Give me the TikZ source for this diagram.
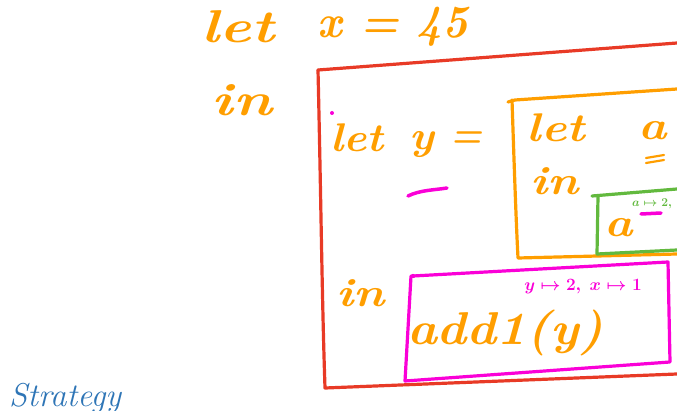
\documentclass[tikz,border=0pt]{standalone}
\usepackage{amsmath}
\definecolor{hor}{RGB}{255,158,0}
\definecolor{hred}{RGB}{232,58,38}
\definecolor{hmag}{RGB}{250,0,215}
\definecolor{hgrn}{RGB}{98,185,62}
\definecolor{hblue}{RGB}{46,117,182}
\tikzset{
  hand/.style={text=hor, font=\fontsize{46}{50}\selectfont\bfseries\itshape, inner sep=0pt},
  handS/.style={text=hor, font=\fontsize{40}{44}\selectfont\bfseries\itshape, inner sep=0pt},
  pen/.style={line width=3.2pt, line cap=round, line join=round},
}
\begin{document}
\begin{tikzpicture}[x=1pt,y=-1pt]
\useasboundingbox (0,0) rectangle (677,411);
\clip (0,0) rectangle (677,411);
% top line
\node[hand, xscale=1.3] (let1) at (238,27) {let};
\node[hand, xscale=0.95] (xeq) at (393,27) {x = 45};
\node[hand, xscale=1.3] (in1) at (242,100) {in};
% red box
\draw[pen, hred] (318,70) -- (677,43) ;
\draw[pen, hred] (318,70) .. controls (321,200) and (322,300) .. (325,388) -- (677,374);
% let y =
\fill[hmag] (332,113) circle (2pt);
\node[handS, xscale=1.1] (let2) at (357,138) {let};
\node[handS, xscale=1.1] (y2) at (422,145) {y};
\node[handS, xscale=0.9] (eq2) at (466,140) {=};
\draw[pen, hmag, line width=3.5pt] (408,196) .. controls (420,190) and (435,190) .. (447,188);
% orange box
\draw[pen, hor] (508,102) -- (515,100) -- (677,89);
\draw[pen, hor] (512,100) .. controls (514,160) and (516,220) .. (518,258) -- (677,254);
\node[handS, xscale=1.2] (let3) at (556,128) {let};
\node[handS, xscale=1.2, anchor=west] (a3) at (638,131) {a =};
\draw[pen, hor, line width=2.2pt] (646,158) -- (664,155);
\draw[pen, hor, line width=2.2pt] (646,163) -- (664,160);
\node[handS, xscale=1.2] (in3) at (555,181) {in};
% green box
\draw[pen, hgrn] (592,196) -- (677,189);
\draw[pen, hgrn] (598,196) -- (597,254) -- (677,250);
\node[handS, xscale=1.2] (a4) at (619,228) {a};
\node[text=hgrn, font=\fontsize{13}{14}\selectfont\bfseries, inner sep=0pt, anchor=west] (lab4) at (632,204) {$\boldsymbol{a\mapsto 2,}$};
\draw[pen, hmag, line width=3.5pt] (641,214) -- (661,213);
% in
\node[handS, xscale=1.2] (in2) at (361,293) {in};
% magenta box
\fill[hmag] (413,276) circle (2.2pt);
\draw[pen, hmag] (413,276) -- (668,262) -- (670,362) -- (405,381) -- (411,276);
\node[text=hmag, font=\fontsize{17}{19}\selectfont, inner sep=0pt] (lab5) at (583,287) {$\boldsymbol{y\mapsto 2,\ x\mapsto 1}$};
\node[hand, xscale=1.1] (add) at (505,333) {add1(y)};
% Strategy
\node[text=hblue, font=\fontsize{33}{36}\selectfont\itshape, inner sep=0pt, anchor=west] (strat) at (9,398) {Strategy};
\end{tikzpicture}
\end{document}
